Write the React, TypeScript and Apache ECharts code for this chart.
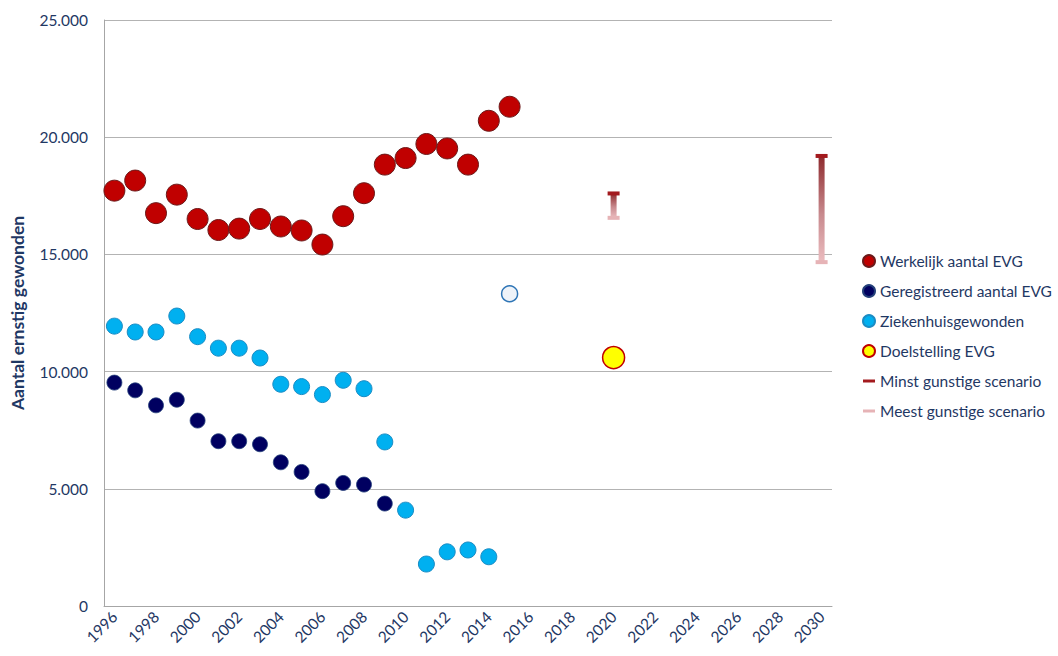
import React, { useEffect, useRef } from "react";
import * as echarts from "echarts";

const categories = [
  "1996","1997","1998","1999","2000","2001","2002","2003","2004","2005",
  "2006","2007","2008","2009","2010","2011","2012","2013","2014","2015",
  "2016","2017","2018","2019","2020","2021","2022","2023","2024","2025",
  "2026","2027","2028","2029","2030",
];

const werkelijkYears = ["1996","1997","1998","1999","2000","2001","2002","2003","2004","2005","2006","2007","2008","2009","2010","2011","2012","2013","2014","2015"];
const werkelijkValues = [17720, 18150, 16760, 17550, 16510, 16040, 16100, 16510, 16190, 16020, 15420, 16630, 17610, 18830, 19110, 19710, 19520, 18830, 20700, 21300];

const geregistreerdYears = ["1996","1997","1998","1999","2000","2001","2002","2003","2004","2005","2006","2007","2008","2009"];
const geregistreerdValues = [9530, 9200, 8560, 8800, 7910, 7030, 7030, 6900, 6130, 5720, 4900, 5250, 5180, 4370];

const ziekenhuisYears = ["1996","1997","1998","1999","2000","2001","2002","2003","2004","2005","2006","2007","2008","2009","2010","2011","2012","2013","2014"];
const ziekenhuisValues = [11940, 11690, 11690, 12370, 11490, 11000, 11000, 10580, 9460, 9360, 9020, 9630, 9270, 7000, 4090, 1790, 2310, 2390, 2100];
const ziekenhuisEstimateYear = "2015";
const ziekenhuisEstimateValue = 13320;

const doelYears = ["2020"];
const doelValues = [10600];

const scenarioYears = ["2020", "2030"];
const minstGunstig = [17600, 19200];
const meestGunstig = [16560, 14670];

const yTicks = [0, 5000, 10000, 15000, 20000, 25000];

const NAVY = "#1f3864";
const FONT = "Lato, 'Open Sans', sans-serif";

function fmt(v: number) {
  return String(v).replace(/\B(?=(\d{3})+(?!\d))/g, ".");
}

export default function App() {
  const ref = useRef<HTMLDivElement>(null);
  useEffect(() => {
    if (!ref.current) return;
    const chart = echarts.init(ref.current, undefined, { renderer: "svg" });

    const pair = (ys: string[], vs: number[]) => ys.map((y, i) => [y, vs[i]]);

    const ziekData: any[] = pair(ziekenhuisYears, ziekenhuisValues);
    ziekData.push({
      value: [ziekenhuisEstimateYear, ziekenhuisEstimateValue],
      itemStyle: { color: "#eef3f9", borderColor: "#2e75b6", borderWidth: 1.5 },
    });

    const rangeData = scenarioYears.map((y, i) => [y, meestGunstig[i], minstGunstig[i]]);

    chart.setOption({
      animation: false,
      textStyle: { fontFamily: FONT },
      grid: { left: 100, right: 226, top: 20, bottom: 50 },
      legend: {
        orient: "vertical",
        left: 857,
        top: 248,
        itemGap: 14,
        itemWidth: 12,
        itemHeight: 12,
        textStyle: { color: NAVY, fontSize: 15.5, fontFamily: FONT },
        data: [
          { name: "Werkelijk aantal EVG", icon: "circle" },
          { name: "Geregistreerd aantal EVG", icon: "circle" },
          { name: "Ziekenhuisgewonden", icon: "circle" },
          { name: "Doelstelling EVG", icon: "circle" },
          { name: "Minst gunstige scenario", icon: "path://M0,0H12V3H0Z" },
          { name: "Meest gunstige scenario", icon: "path://M0,0H12V3H0Z" },
        ],
      },
      xAxis: {
        type: "category",
        data: categories,
        boundaryGap: true,
        axisLine: { show: true, lineStyle: { color: "#a6a6a6" } },
        axisTick: { show: false },
        axisLabel: {
          interval: 1,
          rotate: 45,
          color: NAVY,
          fontSize: 15.5,
          margin: 8,
          fontFamily: FONT,
        },
        splitLine: { show: false },
      },
      yAxis: {
        type: "value",
        min: 0,
        max: 25000,
        interval: 5000,
        name: "Aantal ernstig gewonden",
        nameLocation: "middle",
        nameGap: 78,
        nameTextStyle: { color: NAVY, fontSize: 17.5, fontWeight: "bold", fontFamily: FONT },
        axisLine: { show: true, lineStyle: { color: "#a6a6a6" } },
        axisTick: { show: false },
        axisLabel: {
          color: NAVY,
          fontSize: 15.5,
          margin: 16,
          fontFamily: FONT,
          formatter: (v: number) => (yTicks.includes(v) ? fmt(v) : ""),
        },
        splitLine: { show: true, lineStyle: { color: "#b3b3b3", width: 1 } },
      },
      series: [
        {
          name: "Werkelijk aantal EVG",
          type: "scatter",
          symbol: "circle",
          symbolSize: 21,
          data: pair(werkelijkYears, werkelijkValues),
          itemStyle: { color: "#c00000", borderColor: "#6b1a1a", borderWidth: 1, opacity: 1 },
          z: 3,
        },
        {
          name: "Geregistreerd aantal EVG",
          type: "scatter",
          symbol: "circle",
          symbolSize: 15,
          data: pair(geregistreerdYears, geregistreerdValues),
          itemStyle: { color: "#000060", borderColor: "#24407a", borderWidth: 0.8, opacity: 1 },
          z: 3,
        },
        {
          name: "Ziekenhuisgewonden",
          type: "scatter",
          symbol: "circle",
          symbolSize: 16,
          data: ziekData,
          itemStyle: { color: "#00b0f0", borderColor: "#1b8cc4", borderWidth: 1, opacity: 1 },
          z: 3,
        },
        {
          name: "Doelstelling EVG",
          type: "scatter",
          symbol: "circle",
          symbolSize: 22,
          data: pair(doelYears, doelValues),
          itemStyle: { color: "#ffff00", borderColor: "#c00000", borderWidth: 1.5, opacity: 1 },
          z: 3,
        },
        {
          name: "scenario-range",
          type: "custom",
          data: rangeData,
          z: 2,
          renderItem: (params: any, api: any) => {
            const lowP = api.coord([api.value(0), api.value(1)]);
            const highP = api.coord([api.value(0), api.value(2)]);
            const w = 6;
            return {
              type: "rect",
              shape: { x: highP[0] - w / 2, y: highP[1], width: w, height: lowP[1] - highP[1] },
              style: {
                fill: new echarts.graphic.LinearGradient(0, 0, 0, 1, [
                  { offset: 0, color: "#8e2a2d" },
                  { offset: 0.55, color: "#c88a8e" },
                  { offset: 1, color: "#ebbcbf" },
                ]),
              },
            };
          },
        },
        {
          name: "Minst gunstige scenario",
          type: "scatter",
          symbol: "rect",
          symbolSize: [12, 4],
          data: pair(scenarioYears, minstGunstig),
          itemStyle: { color: "#a31a1e", opacity: 1 },
          z: 4,
        },
        {
          name: "Meest gunstige scenario",
          type: "scatter",
          symbol: "rect",
          symbolSize: [12, 4],
          data: pair(scenarioYears, meestGunstig),
          itemStyle: { color: "#e6b3b6", opacity: 1 },
          z: 4,
        },
      ],
    });

    return () => chart.dispose();
  }, []);

  return (
    <div
      ref={ref}
      style={{ position: "fixed", left: 0, top: 0, width: 1058, height: 656, background: "#ffffff" }}
    />
  );
}
